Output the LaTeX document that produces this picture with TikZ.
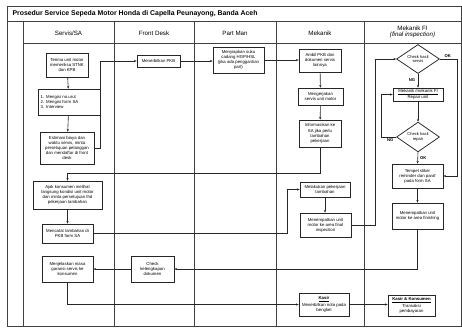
\documentclass[tikz,border=0pt]{standalone}
\usepackage{fontspec}
\setmainfont{Liberation Sans}
\usetikzlibrary{shapes.geometric,arrows.meta}
\tikzset{
  frame/.style={draw=black!75, line width=0.7pt},
  box/.style={draw=black!85, line width=0.75pt, fill=white, align=center, inner sep=0.8pt,
    font=\fontsize{4.3}{5.1}\selectfont},
  dia/.style={diamond, draw=black!85, line width=0.75pt, fill=white, align=center, inner sep=0pt,
    font=\fontsize{4.1}{4.8}\selectfont},
  conn/.style={draw=black!85, line width=0.6pt, -{Stealth[length=2.6pt,width=2.2pt]}},
  plain/.style={draw=black!85, line width=0.6pt},
  lbl/.style={font=\bfseries\fontsize{4.2}{5}\selectfont, inner sep=0.5pt},
  head/.style={font=\fontsize{6.2}{7}\selectfont, align=center}
}
\begin{document}
\begin{tikzpicture}[x=1pt,y=-1pt]
\useasboundingbox (0,0) rectangle (462,329);
% frame
\draw[frame] (7,6) rectangle (461,326);
\draw[frame] (7,21) -- (461,21);
\draw[frame] (23,43) -- (461,43);
\foreach \xx in {23,114,194,276,364} \draw[frame] (\xx,21) -- (\xx,326);
\node[anchor=west, font=\bfseries\fontsize{6.9}{8}\selectfont] (title) at (9,14) {Prosedur Service Sepeda Motor Honda di Capella Peunayong, Banda Aceh};
\node[head] (h1) at (68.5,33) {Servis/SA};
\node[head] (h2) at (154,33) {Front Desk};
\node[head] (h3) at (235,33) {Part Man};
\node[head] (h4) at (320,33) {Mekanik};
\node[head] (h5) at (412.5,32) {Mekanik FI\\[-1.5pt]\textit{(final inspection)}};

% Servis/SA
\node[box, minimum width=42pt, minimum height=24pt] (terima) at (67,65) {Terima unit motor\\memeriksa STNK\\dan KPB};
\node[box, minimum width=62pt, minimum height=26pt, align=left, text width=57pt] (list) at (69,102) {1. Mengisi no.urut\\2. Mengisi form SA\\3. Interview};
\node[box, minimum width=54pt, minimum height=32pt] (estimasi) at (67,148) {Estimasi biaya dan\\waktu servis, minta\\persetujuan pelanggan\\dan mendaftar di front\\desk};
\node[box, minimum width=69pt, minimum height=28pt] (ajak) at (67.5,195) {Ajak konsumen melihat\\langsung kondisi unit motor\\dan minta persetujuan thd\\pekerjaan tambahan};
\node[box, minimum width=51pt, minimum height=19pt] (catat) at (67.5,233.5) {Mencatat tambahan di\\PKB form SA};
\node[box, minimum width=51pt, minimum height=26pt] (jelas) at (67.5,269) {Menjelaskan masa\\garansi servis ke\\konsumen};

% Front Desk
\node[box, minimum width=43pt, minimum height=12pt] (pkb) at (158.5,61) {Menerbitkan PKB};
\node[box, minimum width=43pt, minimum height=26pt] (cek) at (152.5,269) {Check\\kelengkapan\\dokumen};

% Part Man
\node[box, minimum width=51pt, minimum height=26pt] (suku) at (238.5,60) {Menyiapkan suku\\cadang HGP/HSL\\(jika ada penggantian\\part)};

% Mekanik
\node[box, minimum width=42pt, minimum height=23pt] (ambil) at (320,60.5) {Ambil PKB dan\\dokumen servis\\lainnya};
\node[box, minimum width=45pt, minimum height=17pt] (kerja) at (320.5,96.5) {Mengerjakan\\servis unit motor};
\node[box, minimum width=42pt, minimum height=27pt] (info) at (320,133.5) {Informasikan ke\\SA jika perlu\\tambahan\\pekerjaan};
\node[box, minimum width=50pt, minimum height=15pt] (tambah) at (325,189.5) {Melakukan pekerjaan\\tambahan};
\node[box, minimum width=51pt, minimum height=24pt] (final) at (325.5,225) {Menempatkan unit\\motor ke area final\\inspection};
\node[box, minimum width=50pt, minimum height=23pt] (nota) at (324,304.5) {\underline{\textbf{Kasir}}\\Menerbitkan nota pada\\bengkel};

% Mekanik FI
\node[dia, minimum width=43pt, minimum height=23pt] (d1) at (418,59) {Check hasil\\servis};
\node[box, minimum width=50pt, minimum height=13pt] (repair) at (418,94.5) {\underline{Mekanik /mekanik FI}\\Repair unit};
\node[dia, minimum width=43pt, minimum height=21pt] (d2) at (418,137) {Check hasil\\repair};
\node[box, minimum width=51pt, minimum height=24pt] (tempel) at (417.5,176) {Tempel stiker\\reminder dan paraf\\pada form SA};
\node[box, minimum width=51pt, minimum height=26pt] (finish) at (417.5,216) {Menempatkan unit\\motor ke area finishing};
\node[box, minimum width=47pt, minimum height=21pt] (bayar) at (411.5,305.5) {\underline{\textbf{Kasir \& Konsumen}}\\Transaksi\\pembayaran};

% helper coordinates
\coordinate (c1) at (100,173);
\coordinate (c2) at (287,0);
\coordinate (c3) at (375,0);
\coordinate (c4) at (457,0);
\coordinate (c5) at (381,0);

% connectors
\draw[conn] (terima) -- (list);
\draw[conn] (list) -- (estimasi);
\draw[conn] (estimasi.east) -- (estimasi.east -| c1) |- (pkb.west);
\draw[conn] (pkb.east) -- (pkb.east -| suku.west);
\draw[conn] (suku.east) -- (suku.east -| ambil.west);
\draw[conn] (ambil) -- (kerja);
\draw[conn] (kerja) -- (info);
\draw[conn] (info.south) -- (info.south |- c1) -| (ajak.north);
\draw[conn] (ajak) -- (catat);
\draw[conn] (catat.east) -- (catat.east -| c2) |- (tambah.west);
\draw[conn] (tambah.south) -- (tambah.south |- final.north);
\draw[conn] (final.east) -- (final.east -| c3) |- (d1.west);
\draw[conn] (d1.south) -- (repair.north) node[lbl, pos=0.45, left=2pt] (ng1) {NG};
\draw[conn] (d1.east) -- (d1.east -| c4) |- (tempel.east);
\node[lbl, anchor=south west] (ok1) at ([xshift=4pt,yshift=0.5pt]d1.east) {OK};
\draw[conn] (repair.south) -- (d2.north);
\draw[conn] (d2.west) -- (d2.west -| c5) |- (repair.west);
\node[lbl, anchor=north east] (ng2) at ([xshift=-2pt,yshift=-1pt]d2.west) {NG};
\draw[conn] (d2.south) -- (tempel.north) node[lbl, midway, right=1.5pt] (ok2) {OK};
\draw[conn] (tempel) -- (finish);
\draw[conn] (finish.south) |- (cek.east);
\draw[conn] (cek.west) -- (cek.west -| jelas.east);
\draw[conn] (jelas.south) |- (nota.west);
\draw[conn] (nota.east) -- (nota.east -| bayar.west);
\end{tikzpicture}
\end{document}
